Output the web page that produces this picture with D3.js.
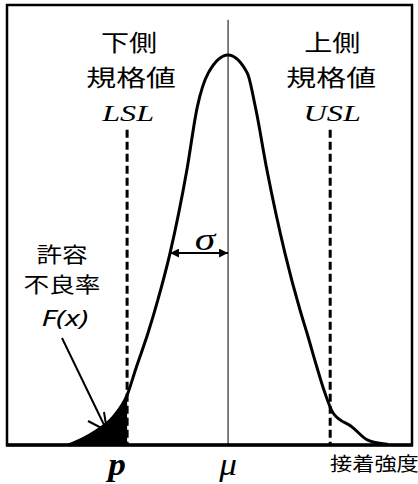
<!DOCTYPE html>
<html><head><meta charset="utf-8">
<script src="https://cdn.jsdelivr.net/npm/d3@7/dist/d3.min.js"></script>
<style>body{margin:0;background:#fff}svg{display:block}</style>
</head><body><svg id="c" width="418" height="484"></svg>
<script>
// data: strength in sigma units from mean (mu = 0), relative density (peak = 1)
const curveX = [-2.75,-2.67,-2.33,-1.98,-1.74,-1.58,-1.38,-1.21,-1.00,-0.71,-0.53,-0.34,0,0.33,0.47,0.67,0.98,1.24,1.36,1.53,1.67,1.81,2.14,2.40,2.67,2.75];
const curveY = [0.000,0.005,0.031,0.072,0.128,0.200,0.287,0.372,0.492,0.705,0.867,0.954,1.000,0.954,0.867,0.705,0.492,0.346,0.287,0.200,0.133,0.082,0.046,0.013,0.003,0.002];
const LSL = -1.74, USL = 1.76, MU = 0, SIGMA = 1;
const xLabels = ["p", "μ"];
const axisTitle = "接着強度";

const svg = d3.select("#c");
const x = d3.scaleLinear().domain([-3.81, 3.17]).range([7, 412]);
const y = d3.scaleLinear().domain([0, 1.128]).range([445, 5]);
const pts = curveX.map((v,i)=>[v, curveY[i]]);

// filled lower tail
const tail = pts.filter(d=>d[0] <= LSL);
const area = d3.area().x(d=>x(d[0])).y0(y(0)).y1(d=>y(d[1])).curve(d3.curveMonotoneX);
svg.append("path").attr("d", area(tail)).attr("fill","#000");

// mean line
svg.append("line").attr("x1",x(MU)).attr("x2",x(MU)).attr("y1",y(1.09)).attr("y2",y(0))
  .attr("stroke","#000").attr("stroke-width",1);

// spec lines
[LSL, USL].forEach(v=>{
  svg.append("line").attr("x1",x(v)).attr("x2",x(v)).attr("y1",y(0.808)).attr("y2",y(0))
    .attr("stroke","#000").attr("stroke-width",3).attr("stroke-dasharray","8,4");
});

// curve
const line = d3.line().x(d=>x(d[0])).y(d=>y(d[1])).curve(d3.curveMonotoneX);
svg.append("path").attr("d", line(pts)).attr("fill","none").attr("stroke","#000").attr("stroke-width",3);

// frame
svg.append("rect").attr("x",x.range()[0]).attr("y",y.range()[1]).attr("width",x.range()[1]-x.range()[0])
  .attr("height",y.range()[0]-y.range()[1]).attr("fill","none").attr("stroke","#000").attr("stroke-width",2.5);
svg.append("line").attr("x1",x.range()[0]-1).attr("x2",x.range()[1]+1).attr("y1",y(0)).attr("y2",y(0))
  .attr("stroke","#000").attr("stroke-width",3.5);

// sigma arrow
const defs = svg.append("defs");
defs.append("marker").attr("id","tri").attr("viewBox","0 0 10 10").attr("refX",10).attr("refY",5)
  .attr("markerWidth",4.5).attr("markerHeight",4.5).attr("orient","auto-start-reverse")
  .append("path").attr("d","M0,0L10,5L0,10z").attr("fill","#000");
svg.append("line").attr("x1",x(MU-SIGMA)).attr("x2",x(MU)).attr("y1",y(0.492)).attr("y2",y(0.492))
  .attr("stroke","#000").attr("stroke-width",2).attr("marker-start","url(#tri)").attr("marker-end","url(#tri)");

function txt(s, px, py, opts){
  const g = svg.append("g").attr("transform",`translate(${px},${py}) scale(${opts.sx||1},1)`);
  g.append("text").text(s).attr("text-anchor",opts.anchor||"middle")
    .attr("font-family",opts.family).attr("font-size",opts.size)
    .attr("font-style",opts.style||"normal").attr("font-weight",opts.weight||"normal").attr("fill","#000");
}
const cjk = "'Noto Sans CJK JP', sans-serif";
const serif = "'Liberation Serif','DejaVu Serif',serif";
txt("下側", x(LSL)+2, 51, {family:cjk,size:23,sx:1.22});
txt("規格値", x(LSL)+4, 86, {family:cjk,size:23,sx:1.3});
txt("LSL", x(LSL)+1, 121, {family:serif,size:23,style:"italic",sx:1.4});
txt("上側", x(USL)+2, 51, {family:cjk,size:23,sx:1.22});
txt("規格値", x(USL)+1, 86, {family:cjk,size:23,sx:1.3});
txt("USL", x(USL)+2, 121, {family:serif,size:23,style:"italic",sx:1.4});
txt("σ", x(MU-SIGMA/2)+6, 250, {family:serif,size:32,style:"italic",sx:1.3});
txt("許容", 62, 262, {family:cjk,size:21,sx:1.22});
txt("不良率", 62, 292, {family:cjk,size:21,sx:1.22});
txt("F(x)", 65, 326, {family:"'Noto Sans',sans-serif",size:21,style:"italic",sx:1.45});

// F(x) arrow
svg.append("line").attr("x1",62).attr("y1",338).attr("x2",107).attr("y2",431).attr("stroke","#000").attr("stroke-width",2);
svg.append("path").attr("d","M88,421L107,431L104,412").attr("fill","none").attr("stroke","#000").attr("stroke-width",2);

// x labels
txt(xLabels[0], x(LSL)-10, 475, {family:serif,size:32,style:"italic",weight:"bold",sx:1.1});
txt(xLabels[1], x(MU), 475, {family:serif,size:32,style:"italic",sx:1.1});
txt(axisTitle, 330, 471, {family:cjk,size:19,anchor:"start",sx:1.17});
</script></body></html>
